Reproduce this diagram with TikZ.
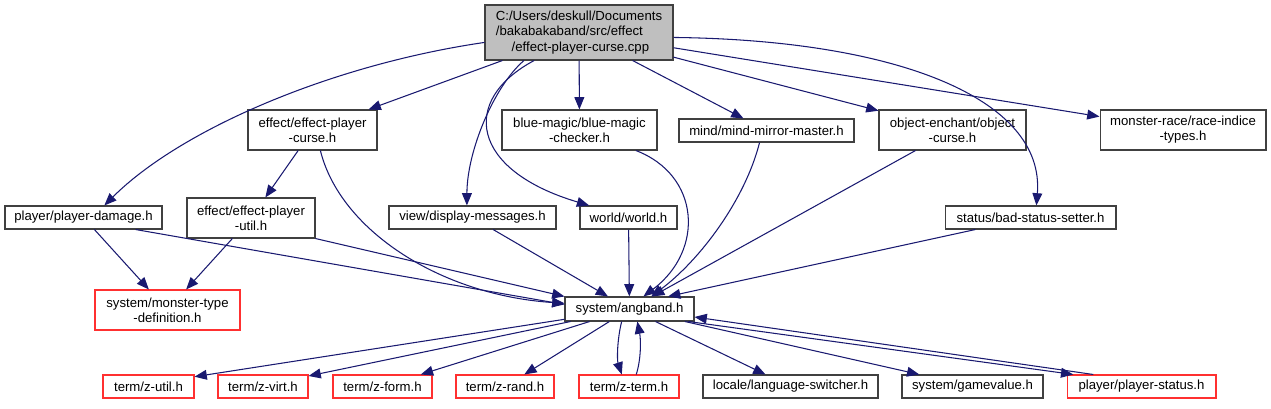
\documentclass[tikz,border=0pt]{standalone}
\usepackage{fontspec}
\setmainfont{Liberation Sans}
\usepackage{tikz}
\usetikzlibrary{
  arrows.meta,
  calc
}
\definecolor{IncBlue}{HTML}{191970}
\definecolor{FileGray}{HTML}{BFBFBF}
\definecolor{EdgeGray}{HTML}{404040}
\definecolor{MissRed}{HTML}{FF3030}
\tikzset{
  % Header file box: one line
  hfile/.style={
    rectangle, draw=#1, fill=white, line width=0.6pt,
    inner sep=1pt, minimum height=0.46cm,
    align=center, font=\fontsize{7.5}{8.6}\selectfont
  },
  hfile/.default=EdgeGray,
  % Header file box: two lines
  hfile2/.style={hfile=#1, minimum height=0.8cm},
  hfile2/.default=EdgeGray,
  % Root source file
  src/.style={hfile, fill=FileGray, minimum height=1.1cm},
  % Include arrow
  inc/.style={
    -{Triangle[length=7pt,width=5.6pt]},
    line width=0.6pt, color=IncBlue
  }
}
\begin{document}
\begin{tikzpicture}[x=0.02cm, y=-0.02cm]
  \useasboundingbox (0,0) rectangle (1271,409);

  % top level
  \node[src, minimum width=3.76cm, align=left] (root) at (579,32.5)
    {C:/Users/deskull/Documents\\/bakabakaband/src/effect\\\hspace*{9pt}/effect-player-curse.cpp};

  % first row of headers
  \node[hfile2, minimum width=2.58cm] (effcurse)   at (312.5,130) {effect/effect-player\\-curse.h};
  \node[hfile2, minimum width=3.1cm]  (bluemagic)  at (579.5,130) {blue-magic/blue-magic\\-checker.h};
  \node[hfile,  minimum width=3.5cm]  (mindmirror) at (766.5,130.5) {mind/mind-mirror-master.h};
  \node[hfile2, minimum width=2.94cm] (objcurse)   at (952.5,130) {object-enchant/object\\-curse.h};
  \node[hfile2, minimum width=3.32cm] (racetypes)  at (1183,130) {monster-race/race-indice\\-types.h};

  % second row
  \node[hfile,  minimum width=3.14cm] (pdamage)   at (83.5,217.5)  {player/player-damage.h};
  \node[hfile2, minimum width=2.56cm] (effutil)   at (251,218)     {effect/effect-player\\-util.h};
  \node[hfile,  minimum width=3.34cm] (dispmsg)   at (472.5,217.5) {view/display-messages.h};
  \node[hfile,  minimum width=1.94cm] (world)     at (628.5,217.5) {world/world.h};
  \node[hfile,  minimum width=3.42cm] (badstatus) at (1030.5,217.5) {status/bad-status-setter.h};

  % third row
  \node[hfile2=MissRed, minimum width=2.9cm] (montype) at (167.5,310) {system/monster-type\\-definition.h};
  \node[hfile, minimum width=2.58cm, minimum height=0.48cm] (angband) at (629.5,309) {system/angband.h};

  % bottom row
  \node[hfile=MissRed, minimum width=1.82cm] (zutil)     at (148.5,386.5)  {term/z-util.h};
  \node[hfile=MissRed, minimum width=1.8cm]  (zvirt)     at (263,386.5)    {term/z-virt.h};
  \node[hfile=MissRed, minimum width=1.98cm] (zform)     at (382.5,386.5)  {term/z-form.h};
  \node[hfile=MissRed, minimum width=1.96cm] (zrand)     at (505,386.5)    {term/z-rand.h};
  \node[hfile=MissRed, minimum width=2.0cm]  (zterm)     at (629,386.5)    {term/z-term.h};
  \node[hfile,         minimum width=3.5cm]  (langsw)    at (790.5,386.5)  {locale/language-switcher.h};
  \node[hfile,         minimum width=2.82cm] (gamevalue) at (972.5,386.5)  {system/gamevalue.h};
  \node[hfile=MissRed, minimum width=2.98cm] (pstatus)   at (1141.5,386.5) {player/player-status.h};

  % includes of the source file
  \draw[inc] (root.186) .. controls (330,65) and (180,130) .. (pdamage.30);
  \draw[inc] (root) -- (effcurse);
  \draw[inc] (root.207) .. controls (495,85) and (467,150) .. (dispmsg.115);
  \draw[inc] (root.212) .. controls (460,100) and (470,170) .. (world.163);
  \draw[inc] (root) -- (bluemagic);
  \draw[inc] (root) -- (mindmirror);
  \draw[inc] (root) -- (objcurse);
  \draw[inc] (root) -- (racetypes);
  \draw[inc] (root.357) .. controls (900,40) and (1045,100) .. (badstatus.64);

  % includes of the headers
  \draw[inc] (effcurse) -- (effutil);
  \draw[inc] (effcurse.291) .. controls (340,230) and (440,295) .. (angband.175);
  \draw[inc] (pdamage) -- (montype);
  \draw[inc] (pdamage.347) -- (angband.176);
  \draw[inc] (effutil) -- (montype);
  \draw[inc] (effutil.south east) -- (angband.north west);
  \draw[inc] (dispmsg) -- (angband);
  \draw[inc] (world) -- (angband);
  \draw[inc] (bluemagic.340) .. controls (700,175) and (705,250) .. (angband.42);
  \draw[inc] (mindmirror.240) .. controls (745,200) and (700,260) .. (angband.30);
  \draw[inc] (objcurse) -- (angband);
  \draw[inc] (badstatus) -- (angband.18);

  % includes of system/angband.h
  \draw[inc] (angband.189) -- (zutil.12);
  \draw[inc] (angband.192) -- (zvirt.13);
  \draw[inc] (angband) -- (zform);
  \draw[inc] (angband) -- (zrand);
  \draw[inc] (angband.238) .. controls (617,340) and (617,360) .. (zterm.121);
  \draw[inc] (zterm.59) .. controls (641,360) and (641,340) .. (angband.302);
  \draw[inc] (angband) -- (langsw);
  \draw[inc] (angband) -- (gamevalue);
  \draw[inc] (angband.348) -- (pstatus.170);
  \draw[inc] (pstatus.166) -- (angband.353);
\end{tikzpicture}
\end{document}
